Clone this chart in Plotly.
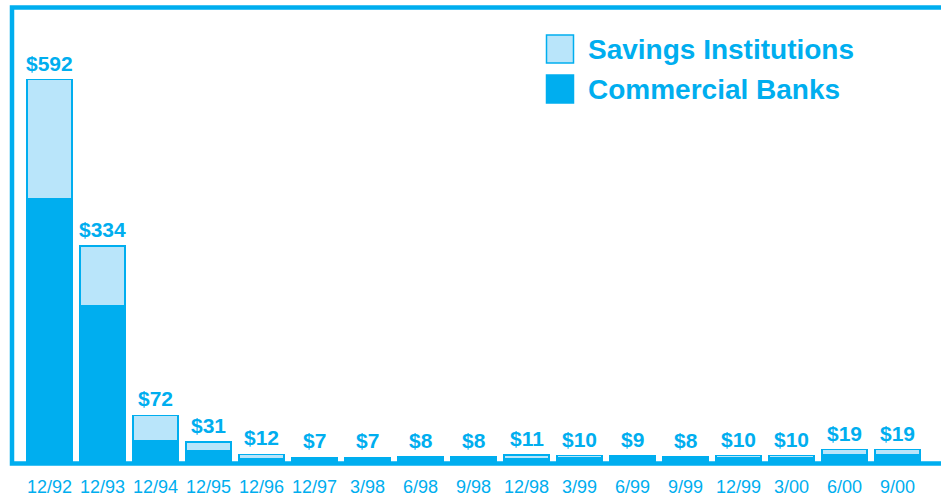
import plotly.graph_objects as go

periods = ["12/92", "12/93", "12/94", "12/95", "12/96", "12/97", "3/98", "6/98", "9/98",
           "12/98", "3/99", "6/99", "9/99", "12/99", "3/00", "6/00", "9/00"]
commercial = [408, 242, 33, 17, 5, 5, 5, 6, 6, 5, 7, 6, 6, 7, 7, 12, 12]
savings = [184, 92, 39, 14, 7, 2, 2, 2, 2, 6, 3, 3, 2, 3, 3, 7, 7]
totals = [592, 334, 72, 31, 12, 7, 7, 8, 8, 11, 10, 9, 8, 10, 10, 19, 19]
legend_names = ["Savings Institutions", "Commercial Banks"]

DARK = "#00AEEF"
LIGHT = "#B9E5FA"
FONT = "Liberation Sans, Arial, sans-serif"

W, H = 941, 500
B = 38
PH = H - B  # plot height in px (t=0)


def px_x(p):
    return p / W


def px_y(p):
    return (PH - p) / PH


fig = go.Figure()
fig.add_trace(go.Bar(x=periods, y=commercial, name=legend_names[1],
                     marker=dict(color=DARK, line=dict(color=DARK, width=1.5)),
                     width=0.84, showlegend=False))
fig.add_trace(go.Bar(x=periods, y=savings, name=legend_names[0],
                     marker=dict(color=LIGHT, line=dict(color=DARK, width=1.5)),
                     width=0.84, showlegend=False))

for p, t in zip(periods, totals):
    fig.add_annotation(x=p, y=t, text=f"<b>${t}</b>", showarrow=False,
                       yanchor="bottom", yshift=3,
                       font=dict(family=FONT, size=21, color=DARK))

# frame
fig.add_shape(type="rect", xref="paper", yref="paper",
              x0=px_x(12), x1=px_x(990), y0=px_y(463.5), y1=px_y(7.5),
              line=dict(color=DARK, width=4.5), layer="above")

# legend (manual)
for i, (name, fill) in enumerate(zip(legend_names, [LIGHT, DARK])):
    top = 35 + 40 * i
    fig.add_shape(type="rect", xref="paper", yref="paper",
                  x0=px_x(546.5), x1=px_x(573.5), y0=px_y(top + 28), y1=px_y(top),
                  fillcolor=fill, line=dict(color=DARK, width=1.5))
    fig.add_annotation(xref="paper", yref="paper", x=px_x(586), y=px_y(top + 14.5),
                       xanchor="left", yanchor="middle", showarrow=False,
                       text=f"<b>{name}</b>",
                       font=dict(family=FONT, size=28, color=DARK))

x0 = -49.5 / 53
x1 = (W - 49.5) / 53
fig.update_layout(
    width=W, height=H,
    margin=dict(l=0, r=0, t=0, b=B, pad=0),
    barmode="stack",
    plot_bgcolor="white", paper_bgcolor="white",
    xaxis=dict(type="category", range=[x0, x1], showgrid=False, zeroline=False,
               showline=False, ticks="", ticklabelstandoff=12,
               tickfont=dict(family=FONT, size=18, color=DARK)),
    yaxis=dict(range=[0, PH / 0.646], visible=False, showgrid=False),
)

fig.write_html("out.html", config={"displayModeBar": False})

with open("out.html", "r", encoding="utf-8") as f:
    html = f.read()
html = html.replace("<head>", "<head><style>html,body{margin:0;padding:0;overflow:hidden}</style>", 1)
with open("out.html", "w", encoding="utf-8") as f:
    f.write(html)
